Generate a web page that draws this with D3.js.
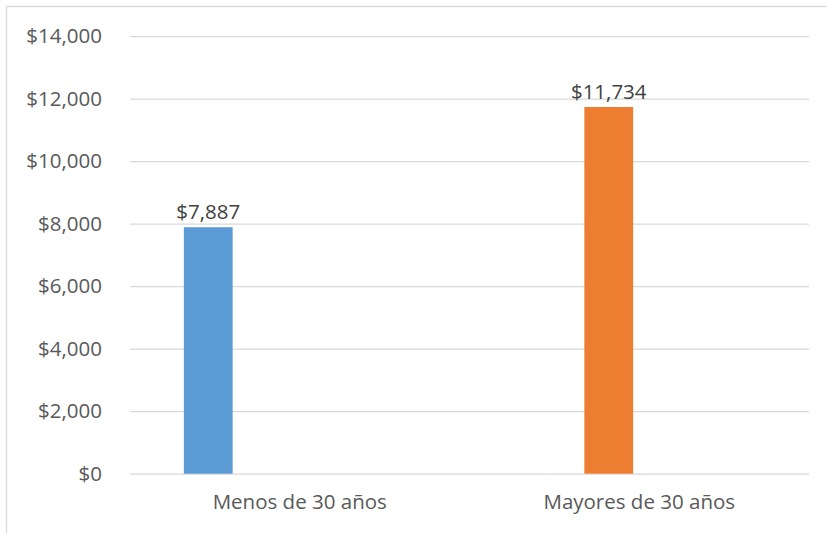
<!DOCTYPE html>
<html>
<head>
<meta charset="utf-8">
<script src="https://cdn.jsdelivr.net/npm/d3@7"></script>
<style>
  body { margin: 0; background: #fff; }
  svg { display: block; font-family: "Open Sans", sans-serif; }
</style>
</head>
<body>
<svg width="827" height="533"></svg>
<script>
    // categories on the x axis
    const categories = ["Menos de 30 años", "Mayores de 30 años"];
    // series slots per group (only two carry values)
    const seriesKeys = ["s1", "s2", "s3", "s4"];
    const seriesColors = ["#5b9bd5", "#ed7d31", "#a5a5a5", "#ffc000"];
    // values per category, one per series slot
    const menosValues = [7887, null, null, null];
    const mayoresValues = [null, 11734, null, null];
    const yTicks = [0, 2000, 4000, 6000, 8000, 10000, 12000, 14000];

    const rows = [menosValues, mayoresValues];

    const svg = d3.select("svg"),
          margin = {top: 36.2, right: 18, bottom: 59.3, left: 130},
          width = +svg.attr("width") - margin.left - margin.right,
          height = +svg.attr("height") - margin.top - margin.bottom;

    // chart area border (cut off on the right and bottom)
    svg.append("rect")
      .attr("x", 6.5)
      .attr("y", 6.5)
      .attr("width", 900)
      .attr("height", 600)
      .attr("fill", "none")
      .attr("stroke", "#d9d9d9")
      .attr("stroke-width", 1.3);

    const g = svg.append("g").attr("transform", `translate(${margin.left},${margin.top})`);

    const x = d3.scaleBand()
      .domain(categories)
      .range([0, width]);

    const xs = d3.scaleBand()
      .domain(seriesKeys)
      .range([-122, 122])
      .paddingInner(0.2)
      .paddingOuter(0.1);

    const y = d3.scaleLinear()
      .domain([0, 14000])
      .range([height, 0]);

    const fmt = v => "$" + d3.format(",")(v);

    // gridlines + y labels
    const yAxis = g.append("g")
      .call(d3.axisLeft(y).tickValues(yTicks).tickSize(-width).tickFormat(fmt).tickPadding(28));
    yAxis.select(".domain").remove();
    yAxis.selectAll(".tick line").attr("stroke", "#d9d9d9").attr("stroke-width", 1.3);
    yAxis.selectAll(".tick text")
      .attr("fill", "#595959")
      .style("font-size", "20.5px")
      .style("font-family", "'Open Sans', sans-serif");

    // x labels
    const xAxis = g.append("g")
      .attr("transform", `translate(0,${height})`)
      .call(d3.axisBottom(x).tickSize(0).tickPadding(21));
    xAxis.select(".domain").remove();
    xAxis.selectAll(".tick text")
      .attr("fill", "#595959")
      .style("font-size", "20.5px")
      .style("font-family", "'Open Sans', sans-serif");

    const bars = [];
    rows.forEach((vals, i) => {
      vals.forEach((v, j) => {
        if (v != null) bars.push({cat: categories[i], key: seriesKeys[j], color: seriesColors[j], value: v});
      });
    });

    const cx = d => x(d.cat) + x.bandwidth() / 2 + xs(d.key);

    g.selectAll(".bar")
      .data(bars)
      .enter().append("rect")
      .attr("class", "bar")
      .attr("x", d => cx(d))
      .attr("y", d => y(d.value))
      .attr("width", xs.bandwidth())
      .attr("height", d => y(0) - y(d.value))
      .attr("fill", d => d.color);

    g.selectAll(".val")
      .data(bars)
      .enter().append("text")
      .attr("class", "val")
      .attr("x", d => cx(d) + xs.bandwidth() / 2)
      .attr("y", d => y(d.value) - 8)
      .attr("text-anchor", "middle")
      .attr("fill", "#404040")
      .style("font-size", "20.5px")
      .text(d => fmt(d.value));
</script>
</body>
</html>
